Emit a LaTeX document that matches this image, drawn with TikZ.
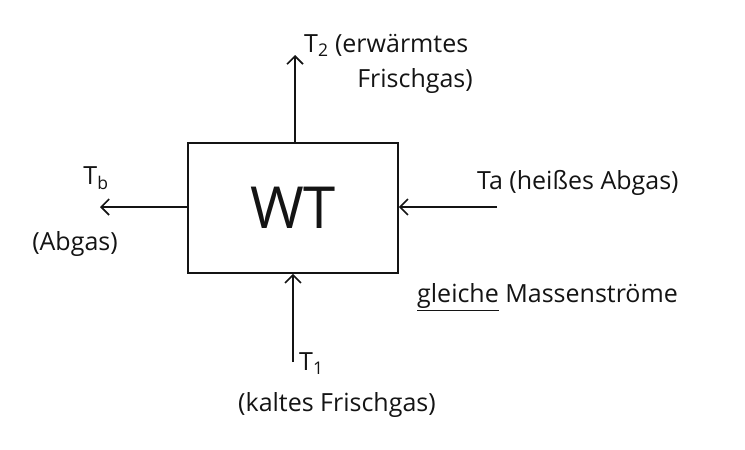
\documentclass[tikz,border=0pt]{standalone}
\usepackage{fontspec}
\setmainfont{Open Sans}
\usetikzlibrary{positioning,arrows.meta}
\definecolor{ink}{RGB}{20,20,20}
\tikzset{
  wtbox/.style={draw=ink, line width=1.6pt, minimum width=210pt, minimum height=130pt,
    inner sep=0pt, font=\fontsize{58}{62}\selectfont, text=ink},
  flow/.style={-{Straight Barb[length=8pt,width=16pt]}, line width=1.6pt, draw=ink},
  lbl/.style={font=\fontsize{25}{30}\selectfont, text=ink, inner sep=1pt, align=left},
}
\begin{document}
\begin{tikzpicture}[x=1pt,y=-1pt]
\useasboundingbox (0,0) rectangle (745,450);
\node[wtbox] (wt) at (293,208) {WT};
% ends of the streams
\coordinate (t2end) at (295,55);
\coordinate (tbend) at (100,207);
\coordinate (tastart) at (497,207);
\coordinate (t1start) at (293,362);
\draw[flow] (wt.north -| t2end) -- (t2end);
\draw[flow] (wt.west |- tbend) -- (tbend);
\draw[flow] (tastart) -- (wt.east |- tastart);
\draw[flow] (t1start) -- (wt.south -| t1start);
% labels
\node[lbl, anchor=west] (t2lbl) at (303,45) {T\textsubscript{2} (erwärmtes};
\node[lbl, anchor=east] (t2lbl2) at (474,81) {Frischgas)};
\node[lbl] (tblbl) at (96,178) {T\textsubscript{b}};
\node[lbl] (tbtxt) at (75,244) {(Abgas)};
\node[lbl, anchor=west] (talbl) at (476,183) {Ta (heißes Abgas)};
\node[lbl, anchor=west] (note) at (416,297) {\underline{gleiche} Massenströme};
\node[lbl, anchor=west] (t1lbl) at (298,364) {T\textsubscript{1}};
\node[lbl] (t1txt) at (337,405) {(kaltes Frischgas)};
\end{tikzpicture}
\end{document}
